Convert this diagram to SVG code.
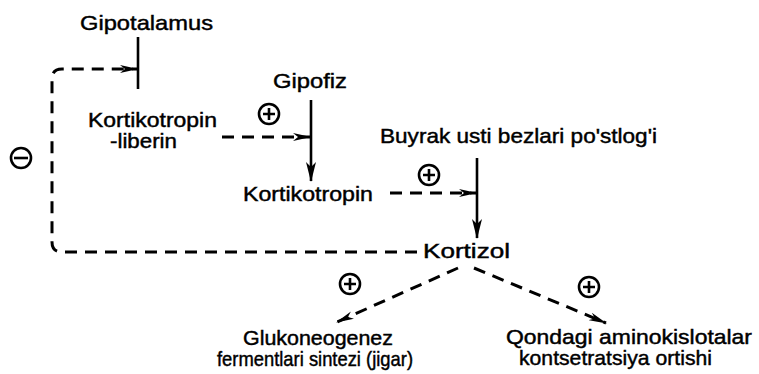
<svg xmlns="http://www.w3.org/2000/svg" width="759" height="374" viewBox="0 0 759 374">
<style>
text{font-family:"Liberation Sans",Arial,sans-serif;font-size:21px;fill:#000;stroke:#000;stroke-width:0.45}
.ln{stroke:#000;stroke-width:2.6;fill:none}
.dash{stroke:#000;stroke-width:3;fill:none;stroke-dasharray:12 8}
.sg{stroke:#000;stroke-width:2.6;fill:#fff}
.pl{stroke:#000;stroke-width:2.6}
</style>
<defs>
<marker id="ah" viewBox="0 0 18 9" refX="17" refY="4.5" markerWidth="18" markerHeight="9" markerUnits="userSpaceOnUse" orient="auto">
<path d="M0,0.5 L18,4.5 L0,8.5 L5,4.5 Z" fill="#000"/>
</marker>
<marker id="ahs" viewBox="0 0 20 11" refX="19" refY="5.5" markerWidth="20" markerHeight="11" markerUnits="userSpaceOnUse" orient="auto">
<path d="M0,0.5 L20,5.5 L0,10.5 L5,5.5 Z" fill="#000"/>
</marker>
</defs>
<rect width="759" height="374" fill="#fff"/>
<g id="connectors">
<line class="ln" x1="138" y1="37" x2="138" y2="89"/>
<path class="dash" d="M417,252 L62,252 Q52,252 52,242 L52,79 Q52,69 62,69 L137,69" marker-end="url(#ah)"/>
<path class="dash" d="M222,137 L310,137" marker-end="url(#ah)"/>
<line class="ln" x1="311" y1="100" x2="311" y2="181" marker-end="url(#ahs)"/>
<path class="dash" d="M390,193 L476,193" marker-end="url(#ah)"/>
<line class="ln" x1="477" y1="158" x2="477" y2="238" marker-end="url(#ahs)"/>
<path class="dash" d="M458,268 L337,322" marker-end="url(#ah)"/>
<path class="dash" d="M474,268 L606,323" marker-end="url(#ah)"/>
</g>
<g id="gipotalamus"><text x="80" y="30" textLength="133" lengthAdjust="spacingAndGlyphs">Gipotalamus</text></g>
<g id="kortikotropin-liberin">
<text x="88" y="127" textLength="129" lengthAdjust="spacingAndGlyphs">Kortikotropin</text>
<text x="110" y="148" textLength="67" lengthAdjust="spacingAndGlyphs">-liberin</text>
</g>
<g id="gipofiz"><text x="273" y="88" textLength="74" lengthAdjust="spacingAndGlyphs">Gipofiz</text></g>
<g id="kortikotropin"><text x="243" y="201" textLength="130" lengthAdjust="spacingAndGlyphs">Kortikotropin</text></g>
<g id="buyrak"><text x="380" y="143" textLength="277" lengthAdjust="spacingAndGlyphs">Buyrak usti bezlari po'stlog'i</text></g>
<g id="kortizol"><text x="423" y="258" textLength="87" lengthAdjust="spacingAndGlyphs">Kortizol</text></g>
<g id="glukoneogenez">
<text x="243" y="345" textLength="150" lengthAdjust="spacingAndGlyphs">Glukoneogenez</text>
<text x="217" y="366" textLength="196" lengthAdjust="spacingAndGlyphs">fermentlari sintezi (jigar)</text>
</g>
<g id="aminokislotalar">
<text x="506" y="344" textLength="246" lengthAdjust="spacingAndGlyphs">Qondagi aminokislotalar</text>
<text x="519" y="365" textLength="193" lengthAdjust="spacingAndGlyphs">kontsetratsiya ortishi</text>
</g>
<g id="minus">
<circle class="sg" cx="21" cy="158" r="10"/>
<line class="pl" x1="14" y1="158" x2="28" y2="158"/>
</g>
<g id="plus1">
<circle class="sg" cx="269" cy="114" r="10"/>
<path class="pl" d="M263,114 H275 M269,108 V120"/>
</g>
<g id="plus2">
<circle class="sg" cx="429" cy="175" r="10"/>
<path class="pl" d="M423,175 H435 M429,169 V181"/>
</g>
<g id="plus3">
<circle class="sg" cx="350" cy="284" r="10"/>
<path class="pl" d="M344,284 H356 M350,278 V290"/>
</g>
<g id="plus4">
<circle class="sg" cx="589" cy="287" r="10"/>
<path class="pl" d="M583,287 H595 M589,281 V293"/>
</g>
</svg>
